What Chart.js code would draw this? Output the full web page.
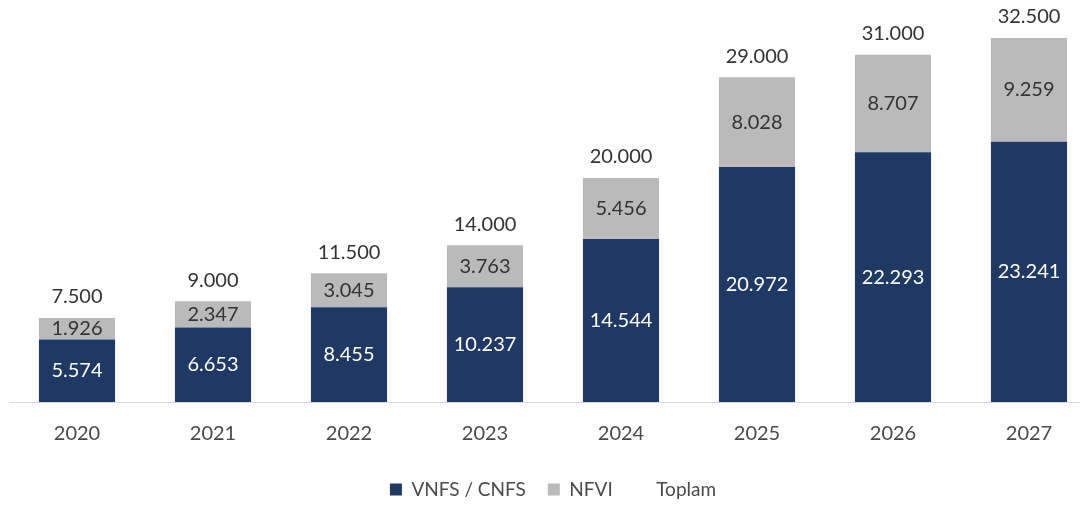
<!DOCTYPE html>
<html>
<head>
<meta charset="utf-8">
<script src="https://cdn.jsdelivr.net/npm/chart.js@4/dist/chart.umd.min.js"></script>
<style>
  html, body { margin: 0; padding: 0; background: #fff; overflow: hidden; }
  #wrap { width: 1100px; height: 507px; }
</style>
</head>
<body>
<div id="wrap"><canvas id="myChart" width="1100" height="507"></canvas></div>
<script>
const years = ["2020", "2021", "2022", "2023", "2024", "2025", "2026", "2027"];
const vnfs = [5574, 6653, 8455, 10237, 14544, 20972, 22293, 23241];
const nfvi = [1926, 2347, 3045, 3763, 5456, 8028, 8707, 9259];
const toplam = [7500, 9000, 11500, 14000, 20000, 29000, 31000, 32500];

// 5574 -> "5.574"
function fmt(v) {
  return String(v).replace(/\B(?=(\d{3})+(?!\d))/g, ".");
}

const labelPlugin = {
  id: "barLabels",
  afterDatasetsDraw(chart) {
    const c = chart.ctx;
    c.save();
    c.font = "20px Lato";
    c.textAlign = "center";
    c.textBaseline = "middle";
    [0, 1].forEach((di) => {
      const meta = chart.getDatasetMeta(di);
      meta.data.forEach((bar, i) => {
        c.fillStyle = di === 0 ? "#ffffff" : "#333333";
        c.fillText(fmt(chart.data.datasets[di].data[i]), bar.x, (bar.y + bar.base) / 2);
      });
    });
    const top = chart.getDatasetMeta(1);
    top.data.forEach((bar, i) => {
      c.fillStyle = "#333333";
      c.fillText(fmt(toplam[i]), bar.x, bar.y - 21);
    });
    c.restore();
  },
};

const ctx = document.getElementById("myChart").getContext("2d");
const myChart = new Chart(ctx, {
  type: "bar",
  data: {
    labels: years,
    datasets: [
      {
        label: "VNFS / CNFS",
        data: vnfs,
        backgroundColor: "#1f3864",
        stack: "s",
      },
      {
        label: "NFVI",
        data: nfvi,
        backgroundColor: "#bababa",
        stack: "s",
      },
      {
        type: "line",
        label: "Toplam",
        data: toplam,
        stack: "t",
        showLine: false,
        pointRadius: 0,
        borderColor: "rgba(0,0,0,0)",
        backgroundColor: "rgba(0,0,0,0)",
      },
    ],
  },
  options: {
    responsive: false,
    animation: false,
    layout: { padding: { left: 9, right: 3, top: 10, bottom: -2 } },
    datasets: { bar: { categoryPercentage: 1, barPercentage: 0.56 } },
    scales: {
      x: {
        stacked: true,
        grid: { display: false },
        border: { display: true, color: "#d9d9d9", width: 1 },
        ticks: { color: "#4a4a4a", font: { family: "Lato", size: 20 }, padding: 12 },
      },
      y: {
        stacked: true,
        display: false,
        min: 0,
        max: 35000,
      },
    },
    plugins: {
      tooltip: { enabled: false },
      legend: {
        position: "bottom",
        labels: {
          color: "#4a4a4a",
          font: { family: "Lato", size: 19 },
          boxWidth: 12,
          boxHeight: 12,
          padding: 22,
        },
      },
    },
  },
  plugins: [labelPlugin],
});
</script>
</body>
</html>
